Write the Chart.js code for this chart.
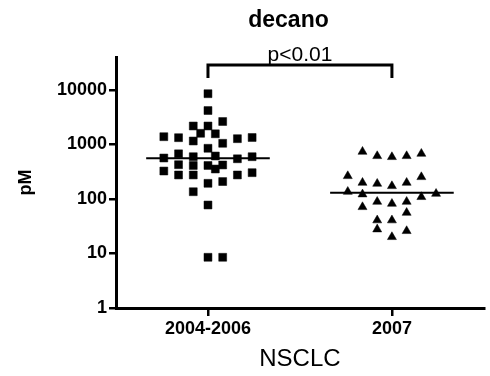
<!DOCTYPE html>
<html>
<head>
<meta charset="utf-8">
<script src="https://cdn.jsdelivr.net/npm/chart.js@4/dist/chart.umd.min.js"></script>
<style>
  html, body { margin: 0; padding: 0; background: #fff; }
  canvas { display: block; }
</style>
</head>
<body>
<canvas id="c" width="490" height="376"></canvas>
<script>
// Groups along the x axis
const categories = ['2004-2006', '2007'];

// Decano concentrations (pM), 2004-2006 cohort, with the column slot of each point
const values2004 = [8550, 4200, 2185, 2185, 2640, 1605, 1572, 1390, 1333, 1159, 1052, 1278,
                    1344, 852, 565, 675, 597, 615, 547, 597, 426, 412, 412, 355, 421, 326,
                    276, 276, 276, 304, 194, 209, 136, 77.6, 8.52, 8.52];
const slots2004  = [0, 0, -2, 0, 2, -1, 1, -6, -4, -2, 2, 4,
                    6, 0, -6, -4, -2, 1, 4, 6, -4, -2, 0, 1, 2, -6,
                    -4, -2, 4, 6, 0, 2, -2, 0, 0, 2];

// Decano concentrations (pM), 2007 cohort
const values2007 = [738, 615, 590, 615, 678, 264, 199, 191, 173, 199, 253, 136, 122,
                    109, 125, 71.3, 89.2, 82, 89.2, 56, 40.7, 40.7, 27.8, 20.1, 25.9];
const slots2007  = [-4, -2, 0, 2, 4, -6, -4, -2, 0, 2, 4, -6, -4,
                    4, 6, -4, -2, 0, 2, 2, -2, 0, -2, 0, 2];

// Group medians (pM)
const medians = [558, 130];

// Significance bracket between the two groups
const pLabel = 'p<0.01';
const bracketLow = 16600;
const bracketHigh = 28750;

// Y axis
const yTicks = [1, 10, 100, 1000, 10000];
const yMin = 1;
const yMax = 40300;

const SLOT = 0.04;         // horizontal spacing of one jitter slot, in x units
const MEDIAN_HALF = 0.336; // half width of the median bar, in x units

const toPoints = (vals, slots, group) =>
  vals.map((v, i) => ({ x: group + slots[i] * SLOT, y: v }));

const medianLine = (g) => [
  { x: g - MEDIAN_HALF, y: medians[g - 1] },
  { x: g + MEDIAN_HALF, y: medians[g - 1] }
];

const textPlugin = {
  id: 'texts',
  afterDraw(chart) {
    const { ctx, scales } = chart;
    ctx.save();
    ctx.fillStyle = '#000';
    ctx.textAlign = 'center';
    ctx.textBaseline = 'alphabetic';
    ctx.font = 'bold 23px "Liberation Sans", Arial, sans-serif';
    ctx.fillText('decano', 288.5, 26.7);
    const xc = (scales.x.getPixelForValue(1) + scales.x.getPixelForValue(2)) / 2;
    ctx.font = '21px "Liberation Sans", Arial, sans-serif';
    ctx.fillText(pLabel, xc, 61);
    ctx.restore();
  }
};

const black = '#000';

new Chart(document.getElementById('c'), {
  type: 'scatter',
  data: {
    datasets: [
      {
        label: categories[0],
        data: toPoints(values2004, slots2004, 1),
        pointStyle: 'rect',
        pointRadius: 5.6,
        borderWidth: 0.5,
        backgroundColor: black,
        borderColor: black
      },
      {
        label: categories[1],
        data: toPoints(values2007, slots2007, 2),
        pointStyle: 'triangle',
        pointRadius: 5.2,
        borderWidth: 0.5,
        backgroundColor: black,
        borderColor: black
      },
      {
        type: 'line',
        data: medianLine(1),
        borderColor: black,
        borderWidth: 2,
        pointRadius: 0,
        tension: 0
      },
      {
        type: 'line',
        data: medianLine(2),
        borderColor: black,
        borderWidth: 2,
        pointRadius: 0,
        tension: 0
      },
      {
        type: 'line',
        data: [
          { x: 1, y: bracketLow },
          { x: 1, y: bracketHigh },
          { x: 2, y: bracketHigh },
          { x: 2, y: bracketLow }
        ],
        borderColor: black,
        borderWidth: 3,
        pointRadius: 0,
        tension: 0,
        clip: false
      }
    ]
  },
  options: {
    responsive: false,
    devicePixelRatio: 1,
    animation: false,
    layout: { padding: { top: 57, right: 2, left: 0, bottom: 0 } },
    plugins: {
      legend: { display: false },
      tooltip: { enabled: false },
      title: { display: false }
    },
    scales: {
      x: {
        type: 'linear',
        position: 'bottom',
        min: 0.5,
        max: 2.5,
        afterBuildTicks: (s) => { s.ticks = categories.map((c, i) => ({ value: i + 1 })); },
        afterFit: (s) => { s.height = 68; },
        ticks: {
          callback: (v) => categories[v - 1],
          color: black,
          font: { family: '"Liberation Sans", Arial, sans-serif', size: 18, weight: 'bold' },
          padding: 2,
          maxRotation: 0
        },
        grid: { drawOnChartArea: false, drawTicks: true, tickLength: 8, lineWidth: 2.5, color: black },
        border: { display: true, width: 3, color: black },
        title: {
          display: true,
          text: 'NSCLC',
          color: black,
          font: { family: '"Liberation Sans", Arial, sans-serif', size: 24 },
          padding: { top: 0, bottom: 2 }
        }
      },
      y: {
        type: 'logarithmic',
        min: yMin,
        max: yMax,
        afterBuildTicks: (s) => { s.ticks = yTicks.map((v) => ({ value: v })); },
        afterFit: (s) => { s.width = 116; },
        ticks: {
          callback: (v) => String(v),
          color: black,
          font: { family: '"Liberation Sans", Arial, sans-serif', size: 18, weight: 'bold' },
          padding: 2
        },
        grid: { drawOnChartArea: false, drawTicks: true, tickLength: 7, lineWidth: 2.5, color: black },
        border: { display: true, width: 3, color: black },
        title: {
          display: true,
          text: 'pM',
          color: black,
          font: { family: '"Liberation Sans", Arial, sans-serif', size: 18, weight: 'bold' },
          padding: { top: 15, bottom: 0 }
        }
      }
    }
  },
  plugins: [textPlugin]
});
</script>
</body>
</html>
